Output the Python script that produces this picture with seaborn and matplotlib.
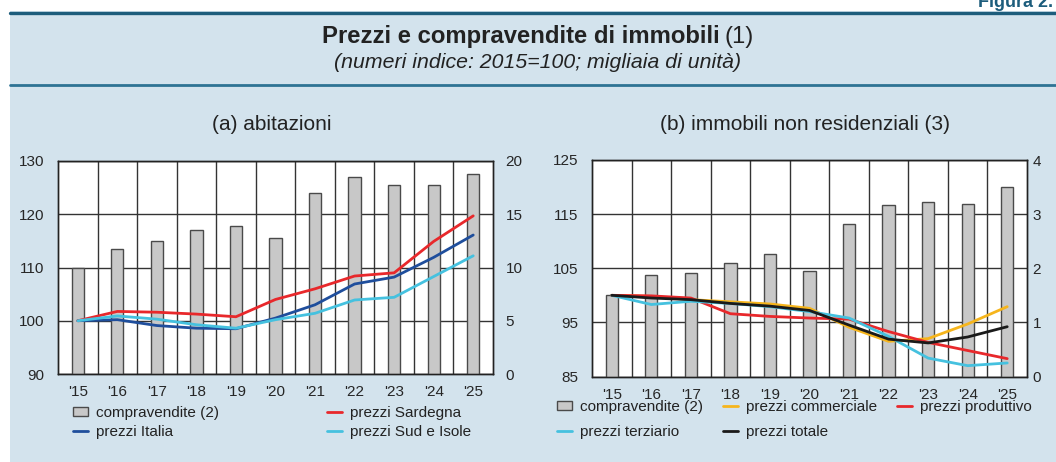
import numpy as np
import pandas as pd
import seaborn as sns
import matplotlib.pyplot as plt
from matplotlib.patches import Rectangle, Patch
from matplotlib.lines import Line2D

# data
years = ["'15", "'16", "'17", "'18", "'19", "'20", "'21", "'22", "'23", "'24", "'25"]

# (a) abitazioni
comp_abit = [10.0, 11.75, 12.5, 13.5, 13.9, 12.75, 17.0, 18.5, 17.7, 17.7, 18.8]
p_italia = [100.0, 100.2, 99.1, 98.6, 98.5, 100.5, 103.0, 106.9, 108.2, 111.9, 116.1]
p_sardegna = [100.0, 101.75, 101.6, 101.25, 100.75, 104.0, 106.0, 108.4, 109.0, 114.9, 119.7]
p_sud = [100.0, 100.9, 100.3, 99.25, 98.6, 100.2, 101.4, 103.9, 104.4, 108.3, 112.2]

# (b) immobili non residenziali
comp_nonres = [1.51, 1.88, 1.91, 2.09, 2.26, 1.94, 2.81, 3.16, 3.22, 3.19, 3.51]
p_commerciale = [100.0, 99.8, 99.2, 98.8, 98.4, 97.6, 94.1, 91.5, 92.0, 94.7, 97.9]
p_produttivo = [100.0, 99.9, 99.5, 96.6, 96.1, 95.8, 95.6, 93.3, 91.3, 89.8, 88.3]
p_terziario = [100.0, 98.3, 98.9, 98.5, 97.9, 97.0, 95.8, 92.4, 88.4, 87.0, 87.5]
p_totale = [100.0, 99.5, 99.2, 98.5, 98.0, 97.2, 94.5, 91.9, 91.2, 92.3, 94.2]

BG = '#d3e3ed'
DARK = '#1d5d7c'
RED = '#e8282b'
BLUE = '#1f4e9c'
CYAN = '#45c1df'
YELLOW = '#f6b51c'
BLACK = '#1a1a1a'
BAR = '#c8c8c8'
BAR_EDGE = '#4a4a4a'

sns.set_style('white')
plt.rcParams['font.family'] = ['Liberation Sans', 'DejaVu Sans']
plt.rcParams['text.color'] = '#222222'

fig = plt.figure(figsize=(10.56, 4.62), dpi=100, facecolor='white')
W, H = 1056, 462

# light blue panel and rules
fig.patches.append(Rectangle((10 / W, 0), 1, 1 - 11 / H, transform=fig.transFigure,
                             facecolor=BG, edgecolor='none', zorder=-10))
fig.add_artist(Line2D([10 / W, 1], [1 - 12.5 / H] * 2, color=DARK, lw=2.4))
fig.add_artist(Line2D([10 / W, 1], [1 - 85 / H] * 2, color='#2e7394', lw=2.0))
fig.text(1 - 3 / W, 1 - 7 / H, 'Figura 2.', ha='right', va='baseline',
         fontsize=13, fontweight='bold', color=DARK)

# title: bold part plus regular "(1)"
t1 = fig.text(322 / W, 1 - 37 / H, 'Prezzi e compravendite di immobili', ha='left',
              va='center', fontsize=17.2, fontweight='bold')
fig.canvas.draw()
bb = t1.get_window_extent()
fig.text(bb.x1 / W + 5 / W, 1 - 37 / H, '(1)', ha='left', va='center', fontsize=17.2)
fig.text(538 / W, 1 - 62 / H, '(numeri indice: 2015=100; migliaia di unità)', ha='center',
         va='center', fontsize=15.3, style='italic')


def panel(rect, title, comp, series, lylim, lyticks, rylim, ryticks, rpad, handles_order, ncol,
          leg_anchor, colspace, lspace):
    ax2 = fig.add_axes(rect)   # bars + grid, right axis
    ax = ax2.twinx()           # lines, but shown on the left
    n = len(years)
    bars = pd.DataFrame({'anno': years, 'comp': comp})
    sns.barplot(data=bars, x='anno', y='comp', ax=ax2, color=BAR, width=0.31,
                edgecolor=BAR_EDGE, linewidth=1.0, saturation=1, zorder=3)
    ax2.set_ylim(*rylim)
    ax2.set_yticks(ryticks)
    ax2.yaxis.tick_right()
    ax2.set_xlim(-0.5, n - 0.5)
    ax2.set_xticks(np.arange(n - 1) + 0.5, minor=True)
    ax2.grid(True, which='major', axis='y', color='#333333', lw=1.0, zorder=0)
    ax2.grid(True, which='minor', axis='x', color='#333333', lw=1.0, zorder=0)
    ax2.set_axisbelow(True)
    ax2.set_facecolor('white')
    ax2.set_xlabel('')
    ax2.set_ylabel('')
    ax2.tick_params(axis='y', length=0, pad=rpad, labelsize=11, labelright=True, labelleft=False)
    ax2.tick_params(axis='x', which='both', length=0, pad=8, labelsize=11)

    long = []
    for name, vals, col in series:
        long.append(pd.DataFrame({'pos': np.arange(n), 'val': vals, 'serie': name}))
    long = pd.concat(long)
    pal = {name: col for name, vals, col in series}
    sns.lineplot(data=long, x='pos', y='val', hue='serie', palette=pal, ax=ax,
                 linewidth=2.0, legend=False, sort=False)
    ax.yaxis.tick_left()
    ax.set_ylim(*lylim)
    ax.set_yticks(lyticks)
    ax.set_xlim(-0.5, n - 0.5)
    ax.set_xlabel('')
    ax.set_ylabel('')
    ax.tick_params(axis='y', length=0, pad=10, labelsize=11, labelleft=True, labelright=False)
    ax.set_zorder(ax2.get_zorder() + 1)
    ax.patch.set_visible(False)
    for a in (ax, ax2):
        for s in a.spines.values():
            s.set_color('#222222')
            s.set_linewidth(1.0)

    cx = rect[0] + rect[2] / 2
    fig.text(cx - 4 / W, 1 - 125 / H, title, ha='center', va='center', fontsize=15)

    handles = {'compravendite (2)': Patch(facecolor=BAR, edgecolor=BAR_EDGE, linewidth=1.0)}
    for name, vals, col in series:
        handles[name] = Line2D([], [], color=col, lw=2.0)
    hs = [handles[k] for k in handles_order]
    fig.legend(hs, handles_order, loc='upper left', bbox_to_anchor=leg_anchor, ncol=ncol,
               frameon=False, fontsize=11, handlelength=1.0, handleheight=0.6,
               handletextpad=0.5, columnspacing=colspace, labelspacing=lspace,
               borderaxespad=0, borderpad=0)


panel([58 / W, 1 - 374 / H, 435 / W, 213 / H], '(a) abitazioni', comp_abit,
      [('prezzi Italia', p_italia, BLUE), ('prezzi Sardegna', p_sardegna, RED),
       ('prezzi Sud e Isole', p_sud, CYAN)],
      (90, 130), [90, 100, 110, 120, 130], (0, 20), [0, 5, 10, 15, 20], 9,
      ['compravendite (2)', 'prezzi Italia', 'prezzi Sardegna', 'prezzi Sud e Isole'], 2,
      (73 / W, 1 - 406 / H), 7.05, 0.35)

panel([592 / W, 1 - 376.5 / H, 435 / W, 216.5 / H], '(b) immobili non residenziali (3)', comp_nonres,
      [('prezzi commerciale', p_commerciale, YELLOW), ('prezzi produttivo', p_produttivo, RED),
       ('prezzi terziario', p_terziario, CYAN), ('prezzi totale', p_totale, BLACK)],
      (85, 125), [85, 95, 105, 115, 125], (0, 4), [0, 1, 2, 3, 4], 4,
      ['compravendite (2)', 'prezzi terziario', 'prezzi commerciale', 'prezzi totale',
       'prezzi produttivo'], 3,
      (557 / W, 1 - 400 / H), 1.3, 0.75)

fig.savefig('out.png', dpi=100, facecolor=fig.get_facecolor())
